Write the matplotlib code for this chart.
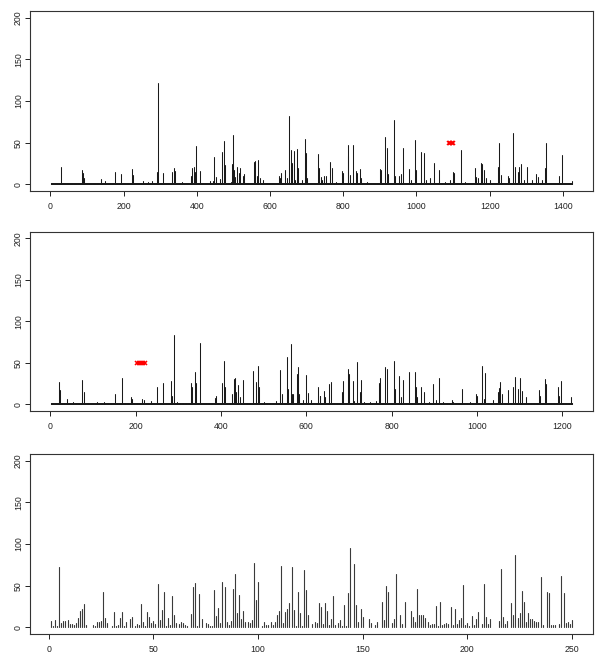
import numpy as np
import matplotlib
matplotlib.use('Agg')
import matplotlib.pyplot as plt

plt.rcParams['font.family'] = ['Liberation Sans', 'DejaVu Sans']

n1 = 1425
spike1_x = [28, 86, 89, 92, 139, 149, 177, 194, 223, 225, 253, 266, 278, 291, 294,
            308, 332, 337, 340, 359, 383, 388, 392, 395, 399, 409, 437, 445, 447,
            452, 462, 470, 473, 476, 492, 496, 499, 502, 505, 509, 514, 519, 525,
            528, 555, 559, 564, 568, 572, 580, 601, 624, 627, 630, 641, 647, 653,
            656, 659, 665, 669, 674, 677, 688, 695, 699, 702, 731, 735, 738, 743,
            748, 752, 765, 768, 779, 797, 800, 812, 814, 818, 826, 834, 837, 846,
            849, 865, 874, 900, 903, 914, 919, 921, 939, 942, 953, 957, 964, 980,
            984, 995, 998, 1013, 1022, 1026, 1036, 1049, 1062, 1079, 1091, 1100,
            1104, 1123, 1134, 1161, 1164, 1167, 1177, 1180, 1186, 1190, 1202, 1223,
            1227, 1231, 1250, 1254, 1264, 1268, 1277, 1281, 1285, 1293, 1302, 1316,
            1327, 1331, 1344, 1350, 1355, 1366, 1389, 1398, 1407, 1425]
spike1_y = [21, 17, 13, 8, 6, 4, 15, 12, 18, 11, 4, 3, 4, 15, 121,
            13, 15, 19, 16, 3, 10, 20, 21, 15, 46, 16, 4, 4, 33,
            9, 6, 39, 52, 23, 3, 24, 59, 17, 9, 21, 13, 20, 10,
            12, 27, 28, 10, 29, 7, 5, 2, 10, 7, 13, 17, 8, 82,
            41, 25, 40, 5, 42, 20, 5, 54, 37, 8, 36, 20, 9, 5,
            10, 10, 27, 19, 3, 16, 13, 34, 47, 11, 47, 16, 13, 18,
            7, 3, 2, 18, 17, 57, 43, 12, 77, 10, 10, 12, 43, 18,
            5, 53, 17, 39, 37, 5, 7, 25, 17, 3, 5, 15,
            14, 41, 3, 20, 9, 8, 25, 24, 17, 8, 5, 21,
            50, 11, 10, 8, 61, 21, 15, 21, 24, 5, 21, 5,
            12, 9, 5, 20, 49, 2, 10, 35, 2, 4]
red1_x = [1089, 1093, 1097, 1101]

# --- panel 2: 1223 observations
n2 = 1223
spike2_x = [21, 23, 39, 52, 74, 78, 110, 125, 152, 167, 190, 192, 215, 219, 235,
            250, 263, 283, 286, 289, 298, 329, 333, 339, 342, 351, 385, 388, 403,
            406, 409, 426, 430, 433, 436, 440, 444, 452, 476, 481, 486, 488, 500,
            529, 539, 542, 554, 557, 563, 566, 570, 578, 581, 584, 592, 600, 603,
            610, 627, 631, 633, 642, 645, 654, 659, 684, 686, 697, 699, 710, 713,
            718, 725, 729, 735, 749, 764, 770, 774, 785, 790, 806, 808, 818, 821,
            827, 841, 854, 857, 860, 869, 877, 888, 898, 904, 912, 921, 941, 944,
            964, 983, 997, 1001, 1012, 1017, 1019, 1037, 1050, 1053, 1055, 1058,
            1074, 1084, 1089, 1096, 1101, 1105, 1116, 1145, 1147, 1160, 1163, 1191,
            1193, 1198, 1220]
spike2_y = [27, 17, 6, 3, 29, 15, 2, 3, 12, 32, 9, 6, 6, 5, 4,
            20, 25, 28, 10, 83, 3, 25, 20, 39, 25, 74, 7, 10, 26,
            52, 21, 12, 30, 32, 14, 23, 8, 29, 40, 27, 46, 20, 2,
            4, 41, 12, 57, 18, 72, 12, 12, 36, 45, 12, 5, 35, 13,
            5, 21, 10, 10, 16, 8, 24, 27, 14, 28, 42, 36, 28, 4,
            51, 15, 29, 3, 3, 4, 25, 31, 45, 42, 52, 18, 34, 9,
            29, 39, 39, 20, 8, 20, 14, 3, 24, 5, 32, 2, 5, 3,
            18, 2, 12, 10, 46, 6, 38, 5, 15, 19, 27, 12,
            17, 21, 33, 18, 32, 16, 8, 17, 10, 30, 24, 20,
            10, 28, 8]
red2_x = [202, 207, 212, 217, 222]

# unread points in panels 1 and 2 sit on the baseline at about this level
base_level = 1

# --- panel 3: 250 observations
vals3 = [8, 2, 9, 2, 72, 5, 8, 8, 9, 4, 4, 3, 5, 11, 20, 22, 28, 3, 1, 0,
         3, 2, 7, 7, 8, 42, 11, 5, 0, 2, 19, 2, 3, 11, 18, 2, 7, 0, 10, 12,
         2, 4, 3, 28, 6, 2, 18, 12, 5, 8, 4, 52, 9, 21, 42, 2, 11, 3, 38, 15,
         5, 4, 6, 5, 3, 2, 1, 16, 49, 53, 2, 40, 10, 0, 5, 4, 2, 2, 45, 14,
         23, 5, 55, 48, 6, 3, 8, 46, 64, 17, 39, 10, 20, 6, 7, 5, 9, 77, 33, 54,
         1, 2, 7, 3, 3, 6, 3, 6, 15, 20, 74, 5, 18, 22, 29, 72, 21, 2, 43, 17,
         2, 69, 45, 15, 0, 4, 7, 5, 29, 24, 4, 29, 20, 3, 10, 38, 3, 5, 9, 2,
         27, 2, 41, 95, 0, 76, 27, 6, 22, 13, 0, 1, 10, 5, 1, 3, 6, 1, 30, 9,
         50, 42, 1, 5, 10, 64, 1, 15, 4, 30, 1, 0, 20, 13, 7, 46, 15, 15, 15, 11,
         7, 3, 4, 4, 26, 2, 31, 3, 4, 5, 4, 24, 3, 22, 4, 9, 11, 51, 3, 5,
         2, 14, 3, 10, 18, 1, 4, 52, 13, 4, 10, 1, 0, 0, 8, 70, 13, 4, 8, 0,
         29, 15, 87, 11, 17, 44, 31, 6, 17, 10, 10, 8, 6, 7, 61, 3, 1, 43, 41, 3,
         3, 3, 1, 4, 62, 41, 5, 6, 4, 9]

red_level = 50


def build(n, xs, ys):
    y = np.full(n, base_level, dtype=float)
    y[np.array(xs) - 1] = ys
    return np.arange(1, n + 1), y


def r_panel(ax, x, y, xticks, red_x=None, lw=0.75, col='#1a1a1a'):
    ax.vlines(x, 0, y, colors=col, linewidth=lw, capstyle='round')
    if red_x is not None:
        ax.plot(red_x, [red_level] * len(red_x), linestyle='none', marker='x',
                color='red', markersize=3.5, markeredgewidth=1.1)
    n = len(x)
    pad = 0.04 * (n - 1)
    ax.set_xlim(1 - pad, n + pad)
    ax.set_ylim(-8, 208)
    ax.set_xticks(xticks)
    ax.set_yticks([0, 50, 100, 150, 200])
    for s in ax.spines.values():
        s.set_linewidth(0.8)
        s.set_color('#333333')
    ax.tick_params(axis='both', direction='out', length=3.6, width=0.7,
                   labelsize=6.3, colors='#222222')
    ax.tick_params(axis='x', pad=4.5)
    ax.tick_params(axis='y', pad=1.5)
    plt.setp(ax.get_yticklabels(), rotation=90, va='center')


fig = plt.figure(figsize=(6.0, 6.65), dpi=100)
ax1 = fig.add_axes([0.05, 0.7128, 0.938, 0.2707])
ax2 = fig.add_axes([0.05, 0.3824, 0.938, 0.2692])
ax3 = fig.add_axes([0.05, 0.0466, 0.938, 0.2707])

x1, y1 = build(n1, spike1_x, spike1_y)
x2, y2 = build(n2, spike2_x, spike2_y)
x3 = np.arange(1, len(vals3) + 1)

r_panel(ax1, x1, y1, range(0, 1401, 200), red1_x)
r_panel(ax2, x2, y2, range(0, 1201, 200), red2_x)
r_panel(ax3, x3, vals3, range(0, 251, 50), lw=0.8, col='#3a3a3a')

fig.savefig('out.png', dpi=100)
